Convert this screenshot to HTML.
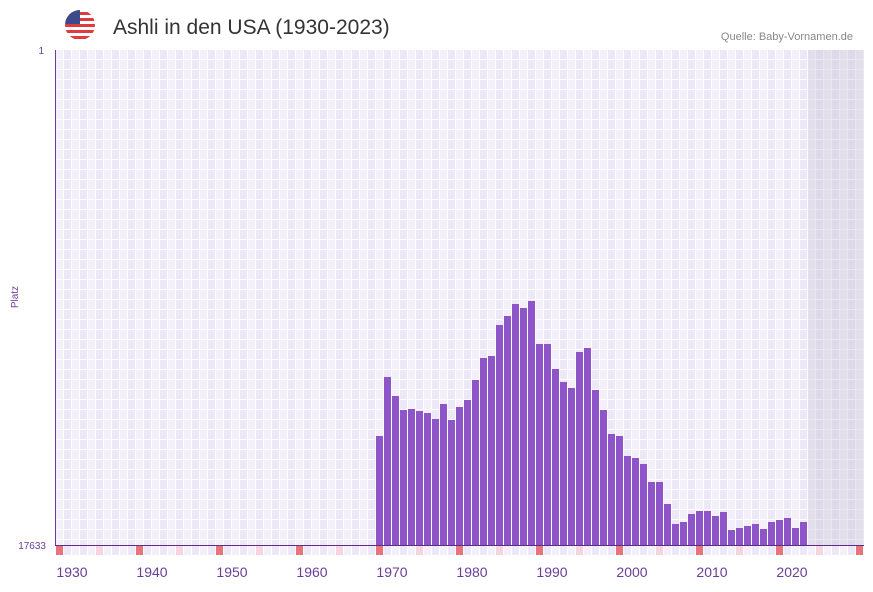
<!DOCTYPE html>
<html><head><meta charset="utf-8"><style>
body{margin:0;background:#fff;width:873px;height:587px;overflow:hidden;font-family:"Liberation Sans",sans-serif}
</style></head><body>
<svg width="873" height="587" viewBox="0 0 873 587" xmlns="http://www.w3.org/2000/svg">
<defs>
<pattern id="g" x="56" y="50" width="16" height="10" patternUnits="userSpaceOnUse">
<rect width="16" height="10" fill="#fff"/>
<rect x="0" y="0" width="7" height="9" fill="#f3f0fb"/>
<rect x="8" y="0" width="7" height="9" fill="#ece8f8"/>
</pattern>
<pattern id="m" x="56" y="546" width="16" height="10" patternUnits="userSpaceOnUse">
<rect width="16" height="10" fill="#fff"/>
<rect x="0" y="0" width="7" height="9" fill="#f3f0fb"/>
<rect x="8" y="0" width="7" height="9" fill="#ece8f8"/>
</pattern>
<clipPath id="c"><circle cx="80" cy="25" r="15"/></clipPath>
</defs>
<g clip-path="url(#c)">
<rect x="65" y="10" width="30" height="30" fill="#fff"/>
<rect x="65" y="12" width="30" height="3" fill="#e0393e"/>
<rect x="65" y="18" width="30" height="3" fill="#e0393e"/>
<rect x="65" y="24" width="30" height="3" fill="#e0393e"/>
<rect x="65" y="30" width="30" height="3" fill="#e0393e"/>
<rect x="65" y="36" width="30" height="3" fill="#e0393e"/>
<rect x="65" y="10" width="15" height="14" fill="#3c4a8c"/>
</g>
<text x="113" y="34" font-size="21" fill="#333">Ashli in den USA (1930-2023)</text>
<text x="853" y="40" font-size="11" fill="#888" text-anchor="end">Quelle: Baby-Vornamen.de</text>
<rect x="56" y="50" width="808" height="495" fill="url(#g)"/>
<rect x="808" y="50" width="56" height="495" fill="#cfc8da" opacity="0.45"/>
<rect x="56" y="546" width="808" height="9" fill="url(#m)"/>
<g fill="#e8737b">
<rect x="56" y="546" width="7" height="9"/><rect x="136" y="546" width="7" height="9"/><rect x="216" y="546" width="7" height="9"/><rect x="296" y="546" width="7" height="9"/><rect x="376" y="546" width="7" height="9"/><rect x="456" y="546" width="7" height="9"/><rect x="536" y="546" width="7" height="9"/><rect x="616" y="546" width="7" height="9"/><rect x="696" y="546" width="7" height="9"/><rect x="776" y="546" width="7" height="9"/><rect x="856" y="546" width="7" height="9"/>
</g>
<g fill="#f5d5de">
<rect x="96" y="546" width="7" height="9"/><rect x="176" y="546" width="7" height="9"/><rect x="256" y="546" width="7" height="9"/><rect x="336" y="546" width="7" height="9"/><rect x="416" y="546" width="7" height="9"/><rect x="496" y="546" width="7" height="9"/><rect x="576" y="546" width="7" height="9"/><rect x="656" y="546" width="7" height="9"/><rect x="736" y="546" width="7" height="9"/><rect x="816" y="546" width="7" height="9"/>
</g>
<g fill="#8e55c8">
<rect x="376" y="436" width="7" height="109"/>
<rect x="384" y="377" width="7" height="168"/>
<rect x="392" y="396" width="7" height="149"/>
<rect x="400" y="410" width="7" height="135"/>
<rect x="408" y="409" width="7" height="136"/>
<rect x="416" y="411" width="7" height="134"/>
<rect x="424" y="413" width="7" height="132"/>
<rect x="432" y="419" width="7" height="126"/>
<rect x="440" y="404" width="7" height="141"/>
<rect x="448" y="420" width="7" height="125"/>
<rect x="456" y="407" width="7" height="138"/>
<rect x="464" y="400" width="7" height="145"/>
<rect x="472" y="380" width="7" height="165"/>
<rect x="480" y="358" width="7" height="187"/>
<rect x="488" y="356" width="7" height="189"/>
<rect x="496" y="325" width="7" height="220"/>
<rect x="504" y="316" width="7" height="229"/>
<rect x="512" y="304" width="7" height="241"/>
<rect x="520" y="308" width="7" height="237"/>
<rect x="528" y="301" width="7" height="244"/>
<rect x="536" y="344" width="7" height="201"/>
<rect x="544" y="344" width="7" height="201"/>
<rect x="552" y="369" width="7" height="176"/>
<rect x="560" y="382" width="7" height="163"/>
<rect x="568" y="388" width="7" height="157"/>
<rect x="576" y="352" width="7" height="193"/>
<rect x="584" y="348" width="7" height="197"/>
<rect x="592" y="390" width="7" height="155"/>
<rect x="600" y="410" width="7" height="135"/>
<rect x="608" y="434" width="7" height="111"/>
<rect x="616" y="436" width="7" height="109"/>
<rect x="624" y="456" width="7" height="89"/>
<rect x="632" y="458" width="7" height="87"/>
<rect x="640" y="464" width="7" height="81"/>
<rect x="648" y="482" width="7" height="63"/>
<rect x="656" y="482" width="7" height="63"/>
<rect x="664" y="504" width="7" height="41"/>
<rect x="672" y="524" width="7" height="21"/>
<rect x="680" y="522" width="7" height="23"/>
<rect x="688" y="514" width="7" height="31"/>
<rect x="696" y="511" width="7" height="34"/>
<rect x="704" y="511" width="7" height="34"/>
<rect x="712" y="516" width="7" height="29"/>
<rect x="720" y="512" width="7" height="33"/>
<rect x="728" y="530" width="7" height="15"/>
<rect x="736" y="528" width="7" height="17"/>
<rect x="744" y="526" width="7" height="19"/>
<rect x="752" y="524" width="7" height="21"/>
<rect x="760" y="529" width="7" height="16"/>
<rect x="768" y="522" width="7" height="23"/>
<rect x="776" y="520" width="7" height="25"/>
<rect x="784" y="518" width="7" height="27"/>
<rect x="792" y="528" width="7" height="17"/>
<rect x="800" y="522" width="7" height="23"/>
</g>
<line x1="55.5" y1="50" x2="55.5" y2="546" stroke="#6a3d9a" stroke-width="1"/>
<line x1="55" y1="545.5" x2="864" y2="545.5" stroke="#5a2d8a" stroke-width="1"/>
<text x="44" y="54" font-size="10" fill="#6a3d9a" text-anchor="end">1</text>
<text x="46" y="549" font-size="10" fill="#6a3d9a" text-anchor="end">17633</text>
<text x="18" y="297" font-size="10" fill="#6a3d9a" text-anchor="middle" transform="rotate(-90 18 297)">Platz</text>
<g font-size="14" fill="#6a3d9a" text-anchor="middle">
<text x="72" y="577">1930</text><text x="152" y="577">1940</text><text x="232" y="577">1950</text><text x="312" y="577">1960</text><text x="392" y="577">1970</text><text x="472" y="577">1980</text><text x="552" y="577">1990</text><text x="632" y="577">2000</text><text x="712" y="577">2010</text><text x="792" y="577">2020</text>
</g>
</svg>
</body></html>
